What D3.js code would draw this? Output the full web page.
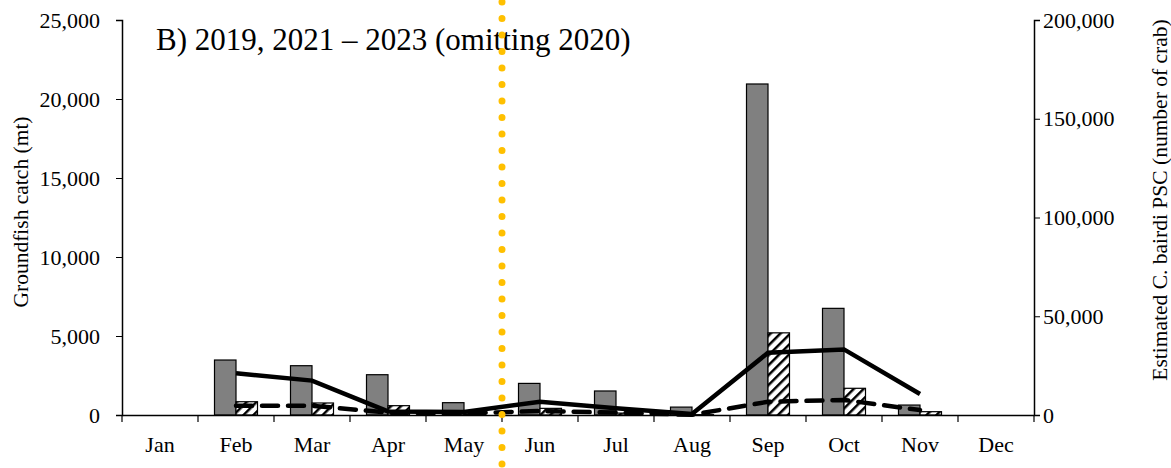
<!DOCTYPE html>
<html>
<head>
<meta charset="utf-8">
<script src="https://cdn.jsdelivr.net/npm/d3@7"></script>
<style>
  body { margin: 0; background: #fff; }
  svg text { font-family: "Liberation Serif", "Times New Roman", serif; fill: #000; }
</style>
</head>
<body>
<div id="chart"></div>
<script>
const months = ["Jan", "Feb", "Mar", "Apr", "May", "Jun", "Jul", "Aug", "Sep", "Oct", "Nov", "Dec"];
// groundfish catch (mt), left axis
const catchA = [0, 3480, 3120, 2550, 780, 2000, 1520, 500, 20950, 6750, 630, 0];
const catchB = [0, 840, 760, 590, 60, 420, 120, 20, 5200, 1690, 210, 0];
// estimated PSC (number of crab), right axis
const pscSolid = [null, 21100, 17400, 1800, 1500, 6700, 3400, 500, 31500, 33200, 10600, null];
const pscDashed = [null, 4700, 4700, 1200, 800, 2000, 1200, 100, 6700, 7600, 2500, null];
const leftTicks = [0, 5000, 10000, 15000, 20000, 25000];
const rightTicks = [0, 50000, 100000, 150000, 200000];
const title = "B) 2019, 2021 \u2013 2023 (omitting 2020)";

const W = 1171, H = 468;
const margin = {top: 20, right: 137, bottom: 53, left: 122};
const width = W - margin.left - margin.right;
const height = H - margin.top - margin.bottom;

const svg = d3.select("#chart").append("svg")
    .attr("width", W).attr("height", H);

const defs = svg.append("defs");
const pat = defs.append("pattern")
    .attr("id", "hatch").attr("patternUnits", "userSpaceOnUse")
    .attr("width", 7).attr("height", 7)
    .attr("patternTransform", "rotate(45)");
pat.append("rect").attr("width", 7).attr("height", 7).attr("fill", "#fff");
pat.append("line").attr("x1", 0).attr("y1", 0).attr("x2", 0).attr("y2", 7)
    .attr("stroke", "#000").attr("stroke-width", 5);

const g = svg.append("g").attr("transform", `translate(${margin.left},${margin.top})`);

const x = d3.scaleBand().domain(months).range([0, width]);
const xs = d3.scaleBand().domain(["a", "b"]).range([-21.5, 21.5]);
const y = d3.scaleLinear().domain([0, 25000]).range([height, 0]);
const y2 = d3.scaleLinear().domain([0, 200000]).range([height, 0]);
const fmt = d3.format(",");

// bars
const cx = m => x(m) + x.bandwidth() / 2;
g.selectAll(".barA").data(months).enter().append("rect")
    .attr("x", m => cx(m) + xs("a"))
    .attr("width", xs.bandwidth())
    .attr("y", (m, i) => y(catchA[i]))
    .attr("height", (m, i) => height - y(catchA[i]))
    .attr("fill", "#808080").attr("stroke", "#000").attr("stroke-width", 1.2)
    .style("display", (m, i) => catchA[i] > 0 ? null : "none");
g.selectAll(".barB").data(months).enter().append("rect")
    .attr("x", m => cx(m) + xs("b"))
    .attr("width", xs.bandwidth())
    .attr("y", (m, i) => y(catchB[i]))
    .attr("height", (m, i) => height - y(catchB[i]))
    .attr("fill", "url(#hatch)").attr("stroke", "#000").attr("stroke-width", 1.2)
    .style("display", (m, i) => catchB[i] > 0 ? null : "none");

// lines
const line = d3.line()
    .defined(d => d.v != null)
    .x(d => cx(d.m))
    .y(d => y2(d.v));
g.append("path")
    .datum(months.map((m, i) => ({m: m, v: pscDashed[i]})))
    .attr("d", line).attr("fill", "none").attr("stroke", "#000")
    .attr("stroke-width", 4.5).attr("stroke-dasharray", "16,10").attr("stroke-linecap", "round");
g.append("path")
    .datum(months.map((m, i) => ({m: m, v: pscSolid[i]})))
    .attr("d", line).attr("fill", "none").attr("stroke", "#000")
    .attr("stroke-width", 4.5);

// axes
const ax = g.append("g").attr("transform", `translate(0,${height})`)
    .call(d3.axisBottom(x).tickSize(0).tickPadding(21));
ax.selectAll("text").style("font-size", "22px");
ax.select(".domain").attr("stroke-width", 1.5);
ax.selectAll(".bt").data(d3.range(13)).enter().append("line")
    .attr("x1", i => i * x.step()).attr("x2", i => i * x.step())
    .attr("y1", 0).attr("y2", 7).attr("stroke", "#000").attr("stroke-width", 1.2);

const ay = g.append("g")
    .call(d3.axisLeft(y).tickValues(leftTicks).tickFormat(fmt).tickSize(6).tickPadding(16));
ay.selectAll("text").style("font-size", "22px");
ay.select(".domain").attr("stroke-width", 1.5);

const ay2 = g.append("g").attr("transform", `translate(${width},0)`)
    .call(d3.axisRight(y2).tickValues(rightTicks).tickFormat(fmt).tickSize(6).tickPadding(3));
ay2.selectAll("text").style("font-size", "22px");
ay2.select(".domain").attr("stroke-width", 1.5);

// axis titles
svg.append("text").attr("transform", "translate(23,212) rotate(-90)")
    .attr("text-anchor", "middle").attr("dominant-baseline", "middle")
    .style("font-size", "21.5px").text("Groundfish catch (mt)");
svg.append("text").attr("transform", "translate(1162,200) rotate(-90)")
    .attr("text-anchor", "middle").attr("dominant-baseline", "middle")
    .style("font-size", "21.5px").text("Estimated C. bairdi PSC (number of crab)");

// title
svg.append("text").attr("x", 156).attr("y", 50)
    .style("font-size", "31px").text(title);

// dotted divider between May and Jun
const xd = margin.left + x("Jun");
svg.append("line").attr("x1", xd).attr("x2", xd).attr("y1", 2).attr("y2", H)
    .attr("stroke", "#FFC000").attr("stroke-width", 7)
    .attr("stroke-linecap", "round").attr("stroke-dasharray", "0,16.5");
</script>
</body>
</html>
